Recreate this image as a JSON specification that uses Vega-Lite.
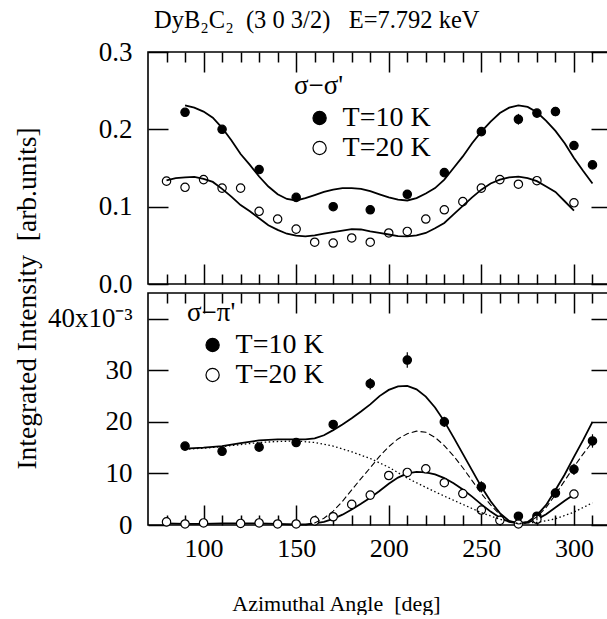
{
  "$schema": "https://vega.github.io/schema/vega-lite/v6.json",
  "padding": {"left": 12, "top": 6, "right": 0, "bottom": 0},
  "autosize": {"type": "pad"},
  "background": "white",
  "config": {
    "font": "Liberation Serif",
    "style": {"guide-label": {"font": "Liberation Serif"}, "guide-title": {"font": "Liberation Serif"}, "group-title": {"font": "Liberation Serif"}},
    "view": {"stroke": "black", "strokeWidth": 1.6},
    "axis": {"domain": false, "grid": false, "tickColor": "black", "tickWidth": 1.5, "labelColor": "black", "titleColor": "black", "labelFont": "Liberation Serif", "titleFont": "Liberation Serif", "labelFontSize": 26, "titleFontWeight": "normal", "labelOverlap": false, "labelFlush": false},
    "legend": {"orient": "none", "titleFont": "Liberation Serif", "titleFontSize": 27, "titleFontWeight": "normal", "titleColor": "black", "labelFont": "Liberation Serif", "labelFontSize": 28, "labelColor": "black", "symbolSize": 175, "symbolType": "circle", "symbolStrokeColor": "black", "symbolStrokeWidth": 1.2, "titlePadding": 4, "rowPadding": 2, "labelOffset": 9, "symbolOffset": 11.6, "padding": 0}
  },
  "datasets": {
    "top_points": [
      {"T": "T=10 K", "x": 90, "y": 0.222, "err": 0.004},
      {"T": "T=10 K", "x": 110, "y": 0.200, "err": 0.004},
      {"T": "T=10 K", "x": 130, "y": 0.148, "err": 0.004},
      {"T": "T=10 K", "x": 150, "y": 0.112, "err": 0.004},
      {"T": "T=10 K", "x": 170, "y": 0.100, "err": 0.004},
      {"T": "T=10 K", "x": 190, "y": 0.096, "err": 0.004},
      {"T": "T=10 K", "x": 210, "y": 0.116, "err": 0.004},
      {"T": "T=10 K", "x": 230, "y": 0.144, "err": 0.004},
      {"T": "T=10 K", "x": 250, "y": 0.197, "err": 0.004},
      {"T": "T=10 K", "x": 270, "y": 0.213, "err": 0.007},
      {"T": "T=10 K", "x": 280, "y": 0.221, "err": 0.005},
      {"T": "T=10 K", "x": 290, "y": 0.223, "err": 0.006},
      {"T": "T=10 K", "x": 300, "y": 0.179, "err": 0.004},
      {"T": "T=10 K", "x": 310, "y": 0.154, "err": 0.004},
      {"T": "T=20 K", "x": 80, "y": 0.133},
      {"T": "T=20 K", "x": 90, "y": 0.125},
      {"T": "T=20 K", "x": 100, "y": 0.135},
      {"T": "T=20 K", "x": 110, "y": 0.124},
      {"T": "T=20 K", "x": 120, "y": 0.124},
      {"T": "T=20 K", "x": 130, "y": 0.094},
      {"T": "T=20 K", "x": 140, "y": 0.084},
      {"T": "T=20 K", "x": 150, "y": 0.071},
      {"T": "T=20 K", "x": 160, "y": 0.054},
      {"T": "T=20 K", "x": 170, "y": 0.053},
      {"T": "T=20 K", "x": 180, "y": 0.0595},
      {"T": "T=20 K", "x": 190, "y": 0.054},
      {"T": "T=20 K", "x": 200, "y": 0.066},
      {"T": "T=20 K", "x": 210, "y": 0.068},
      {"T": "T=20 K", "x": 220, "y": 0.084},
      {"T": "T=20 K", "x": 230, "y": 0.096},
      {"T": "T=20 K", "x": 240, "y": 0.1065},
      {"T": "T=20 K", "x": 250, "y": 0.124},
      {"T": "T=20 K", "x": 260, "y": 0.135},
      {"T": "T=20 K", "x": 270, "y": 0.129},
      {"T": "T=20 K", "x": 280, "y": 0.1336},
      {"T": "T=20 K", "x": 300, "y": 0.105}
    ],
    "top_curves": [
      {"s": "10K", "x": 90, "y": 0.231}, {"s": "10K", "x": 95, "y": 0.228}, {"s": "10K", "x": 100, "y": 0.223}, {"s": "10K", "x": 105, "y": 0.215},
      {"s": "10K", "x": 110, "y": 0.202}, {"s": "10K", "x": 115, "y": 0.186}, {"s": "10K", "x": 120, "y": 0.168}, {"s": "10K", "x": 125, "y": 0.154},
      {"s": "10K", "x": 130, "y": 0.139}, {"s": "10K", "x": 135, "y": 0.126}, {"s": "10K", "x": 140, "y": 0.116}, {"s": "10K", "x": 145, "y": 0.110},
      {"s": "10K", "x": 150, "y": 0.108}, {"s": "10K", "x": 155, "y": 0.111}, {"s": "10K", "x": 160, "y": 0.115}, {"s": "10K", "x": 165, "y": 0.119},
      {"s": "10K", "x": 170, "y": 0.122}, {"s": "10K", "x": 175, "y": 0.124}, {"s": "10K", "x": 180, "y": 0.124}, {"s": "10K", "x": 185, "y": 0.123},
      {"s": "10K", "x": 190, "y": 0.120}, {"s": "10K", "x": 195, "y": 0.116}, {"s": "10K", "x": 200, "y": 0.112}, {"s": "10K", "x": 205, "y": 0.109},
      {"s": "10K", "x": 210, "y": 0.108}, {"s": "10K", "x": 215, "y": 0.111}, {"s": "10K", "x": 220, "y": 0.117}, {"s": "10K", "x": 225, "y": 0.124},
      {"s": "10K", "x": 230, "y": 0.135}, {"s": "10K", "x": 235, "y": 0.150}, {"s": "10K", "x": 240, "y": 0.165}, {"s": "10K", "x": 245, "y": 0.182},
      {"s": "10K", "x": 250, "y": 0.197}, {"s": "10K", "x": 255, "y": 0.210}, {"s": "10K", "x": 260, "y": 0.221}, {"s": "10K", "x": 265, "y": 0.228},
      {"s": "10K", "x": 270, "y": 0.231}, {"s": "10K", "x": 275, "y": 0.229}, {"s": "10K", "x": 280, "y": 0.222}, {"s": "10K", "x": 285, "y": 0.211},
      {"s": "10K", "x": 290, "y": 0.198}, {"s": "10K", "x": 295, "y": 0.182}, {"s": "10K", "x": 300, "y": 0.163}, {"s": "10K", "x": 305, "y": 0.146},
      {"s": "10K", "x": 310, "y": 0.130},
      {"s": "20K", "x": 80, "y": 0.134}, {"s": "20K", "x": 85, "y": 0.137}, {"s": "20K", "x": 90, "y": 0.138}, {"s": "20K", "x": 95, "y": 0.1385},
      {"s": "20K", "x": 100, "y": 0.136}, {"s": "20K", "x": 105, "y": 0.132}, {"s": "20K", "x": 110, "y": 0.123}, {"s": "20K", "x": 115, "y": 0.113},
      {"s": "20K", "x": 120, "y": 0.102}, {"s": "20K", "x": 125, "y": 0.094}, {"s": "20K", "x": 130, "y": 0.085}, {"s": "20K", "x": 135, "y": 0.076},
      {"s": "20K", "x": 140, "y": 0.070}, {"s": "20K", "x": 145, "y": 0.065}, {"s": "20K", "x": 150, "y": 0.0625}, {"s": "20K", "x": 155, "y": 0.0617},
      {"s": "20K", "x": 160, "y": 0.063}, {"s": "20K", "x": 165, "y": 0.065}, {"s": "20K", "x": 170, "y": 0.067}, {"s": "20K", "x": 175, "y": 0.069},
      {"s": "20K", "x": 180, "y": 0.071}, {"s": "20K", "x": 185, "y": 0.0705}, {"s": "20K", "x": 190, "y": 0.068}, {"s": "20K", "x": 195, "y": 0.066},
      {"s": "20K", "x": 200, "y": 0.064}, {"s": "20K", "x": 205, "y": 0.062}, {"s": "20K", "x": 210, "y": 0.0617}, {"s": "20K", "x": 215, "y": 0.063},
      {"s": "20K", "x": 220, "y": 0.066}, {"s": "20K", "x": 225, "y": 0.072}, {"s": "20K", "x": 230, "y": 0.079}, {"s": "20K", "x": 235, "y": 0.090},
      {"s": "20K", "x": 240, "y": 0.101}, {"s": "20K", "x": 245, "y": 0.112}, {"s": "20K", "x": 250, "y": 0.122}, {"s": "20K", "x": 255, "y": 0.130},
      {"s": "20K", "x": 260, "y": 0.135}, {"s": "20K", "x": 265, "y": 0.138}, {"s": "20K", "x": 270, "y": 0.1388}, {"s": "20K", "x": 275, "y": 0.137},
      {"s": "20K", "x": 280, "y": 0.133}, {"s": "20K", "x": 285, "y": 0.126}, {"s": "20K", "x": 290, "y": 0.119}, {"s": "20K", "x": 295, "y": 0.107},
      {"s": "20K", "x": 300, "y": 0.095}
    ],
    "bot_points": [
      {"T": "T=10 K", "x": 90, "y": 15.3, "err": 0.7},
      {"T": "T=10 K", "x": 110, "y": 14.3, "err": 0.7},
      {"T": "T=10 K", "x": 130, "y": 15.1, "err": 0.7},
      {"T": "T=10 K", "x": 150, "y": 16.0, "err": 0.7},
      {"T": "T=10 K", "x": 170, "y": 19.5, "err": 0.8},
      {"T": "T=10 K", "x": 190, "y": 27.4, "err": 1.1},
      {"T": "T=10 K", "x": 210, "y": 32.0, "err": 1.5},
      {"T": "T=10 K", "x": 230, "y": 20.0, "err": 1.0},
      {"T": "T=10 K", "x": 250, "y": 7.4, "err": 1.1},
      {"T": "T=10 K", "x": 270, "y": 1.7, "err": 0.8},
      {"T": "T=10 K", "x": 280, "y": 1.7, "err": 0.8},
      {"T": "T=10 K", "x": 290, "y": 6.2, "err": 0.9},
      {"T": "T=10 K", "x": 300, "y": 10.8, "err": 1.1},
      {"T": "T=10 K", "x": 310, "y": 16.3, "err": 1.3},
      {"T": "T=20 K", "x": 80, "y": 0.6},
      {"T": "T=20 K", "x": 90, "y": 0.2},
      {"T": "T=20 K", "x": 100, "y": 0.4},
      {"T": "T=20 K", "x": 120, "y": 0.3},
      {"T": "T=20 K", "x": 130, "y": 0.4},
      {"T": "T=20 K", "x": 140, "y": 0.2},
      {"T": "T=20 K", "x": 150, "y": 0.2},
      {"T": "T=20 K", "x": 160, "y": 0.8},
      {"T": "T=20 K", "x": 170, "y": 1.6},
      {"T": "T=20 K", "x": 180, "y": 4.0},
      {"T": "T=20 K", "x": 190, "y": 5.8},
      {"T": "T=20 K", "x": 200, "y": 9.6},
      {"T": "T=20 K", "x": 210, "y": 10.2},
      {"T": "T=20 K", "x": 220, "y": 10.9},
      {"T": "T=20 K", "x": 230, "y": 8.2},
      {"T": "T=20 K", "x": 240, "y": 6.1},
      {"T": "T=20 K", "x": 250, "y": 2.9},
      {"T": "T=20 K", "x": 260, "y": 0.9},
      {"T": "T=20 K", "x": 270, "y": 0.2},
      {"T": "T=20 K", "x": 280, "y": 1.1},
      {"T": "T=20 K", "x": 300, "y": 6.0}
    ],
    "bot_curves": [
      {"s": "total10", "style": "solid", "x": 90, "y": 14.8}, {"s": "total10", "style": "solid", "x": 100, "y": 15.0}, {"s": "total10", "style": "solid", "x": 110, "y": 15.3},
      {"s": "total10", "style": "solid", "x": 120, "y": 15.9}, {"s": "total10", "style": "solid", "x": 130, "y": 16.4}, {"s": "total10", "style": "solid", "x": 140, "y": 16.6},
      {"s": "total10", "style": "solid", "x": 150, "y": 16.6}, {"s": "total10", "style": "solid", "x": 155, "y": 16.6}, {"s": "total10", "style": "solid", "x": 160, "y": 16.8},
      {"s": "total10", "style": "solid", "x": 165, "y": 17.4}, {"s": "total10", "style": "solid", "x": 170, "y": 18.4}, {"s": "total10", "style": "solid", "x": 175, "y": 19.5},
      {"s": "total10", "style": "solid", "x": 180, "y": 20.7}, {"s": "total10", "style": "solid", "x": 185, "y": 22.0}, {"s": "total10", "style": "solid", "x": 190, "y": 23.4},
      {"s": "total10", "style": "solid", "x": 195, "y": 25.0}, {"s": "total10", "style": "solid", "x": 200, "y": 26.2}, {"s": "total10", "style": "solid", "x": 205, "y": 26.9},
      {"s": "total10", "style": "solid", "x": 210, "y": 27.0}, {"s": "total10", "style": "solid", "x": 215, "y": 26.3}, {"s": "total10", "style": "solid", "x": 220, "y": 24.9},
      {"s": "total10", "style": "solid", "x": 225, "y": 22.8}, {"s": "total10", "style": "solid", "x": 230, "y": 20.1}, {"s": "total10", "style": "solid", "x": 235, "y": 17.0},
      {"s": "total10", "style": "solid", "x": 240, "y": 13.8}, {"s": "total10", "style": "solid", "x": 245, "y": 10.6}, {"s": "total10", "style": "solid", "x": 250, "y": 7.4},
      {"s": "total10", "style": "solid", "x": 255, "y": 4.6}, {"s": "total10", "style": "solid", "x": 260, "y": 2.3}, {"s": "total10", "style": "solid", "x": 265, "y": 0.8},
      {"s": "total10", "style": "solid", "x": 270, "y": 0.3}, {"s": "total10", "style": "solid", "x": 275, "y": 0.6}, {"s": "total10", "style": "solid", "x": 280, "y": 1.9},
      {"s": "total10", "style": "solid", "x": 285, "y": 3.9}, {"s": "total10", "style": "solid", "x": 290, "y": 6.8}, {"s": "total10", "style": "solid", "x": 295, "y": 9.8},
      {"s": "total10", "style": "solid", "x": 300, "y": 13.2}, {"s": "total10", "style": "solid", "x": 305, "y": 16.5}, {"s": "total10", "style": "solid", "x": 310, "y": 20.0},
      {"s": "total20", "style": "solid", "x": 80, "y": 0.3}, {"s": "total20", "style": "solid", "x": 90, "y": 0.2}, {"s": "total20", "style": "solid", "x": 100, "y": 0.2},
      {"s": "total20", "style": "solid", "x": 110, "y": 0.3}, {"s": "total20", "style": "solid", "x": 120, "y": 0.3}, {"s": "total20", "style": "solid", "x": 130, "y": 0.3},
      {"s": "total20", "style": "solid", "x": 140, "y": 0.2}, {"s": "total20", "style": "solid", "x": 150, "y": 0.1}, {"s": "total20", "style": "solid", "x": 155, "y": 0.1},
      {"s": "total20", "style": "solid", "x": 160, "y": 0.3}, {"s": "total20", "style": "solid", "x": 165, "y": 0.6}, {"s": "total20", "style": "solid", "x": 170, "y": 1.2},
      {"s": "total20", "style": "solid", "x": 175, "y": 2.0}, {"s": "total20", "style": "solid", "x": 180, "y": 3.0}, {"s": "total20", "style": "solid", "x": 185, "y": 4.1},
      {"s": "total20", "style": "solid", "x": 190, "y": 5.3}, {"s": "total20", "style": "solid", "x": 195, "y": 6.6}, {"s": "total20", "style": "solid", "x": 200, "y": 8.0},
      {"s": "total20", "style": "solid", "x": 205, "y": 9.2}, {"s": "total20", "style": "solid", "x": 210, "y": 10.0}, {"s": "total20", "style": "solid", "x": 215, "y": 10.3},
      {"s": "total20", "style": "solid", "x": 220, "y": 10.2}, {"s": "total20", "style": "solid", "x": 225, "y": 9.8}, {"s": "total20", "style": "solid", "x": 230, "y": 9.1},
      {"s": "total20", "style": "solid", "x": 235, "y": 8.1}, {"s": "total20", "style": "solid", "x": 240, "y": 6.9}, {"s": "total20", "style": "solid", "x": 245, "y": 5.5},
      {"s": "total20", "style": "solid", "x": 250, "y": 4.0}, {"s": "total20", "style": "solid", "x": 255, "y": 2.6}, {"s": "total20", "style": "solid", "x": 260, "y": 1.4},
      {"s": "total20", "style": "solid", "x": 265, "y": 0.6}, {"s": "total20", "style": "solid", "x": 270, "y": 0.3}, {"s": "total20", "style": "solid", "x": 275, "y": 0.5},
      {"s": "total20", "style": "solid", "x": 280, "y": 1.1}, {"s": "total20", "style": "solid", "x": 285, "y": 2.1}, {"s": "total20", "style": "solid", "x": 290, "y": 3.4},
      {"s": "total20", "style": "solid", "x": 295, "y": 4.7}, {"s": "total20", "style": "solid", "x": 300, "y": 5.9},
      {"s": "dot10", "style": "dotted", "x": 90, "y": 14.7}, {"s": "dot10", "style": "dotted", "x": 100, "y": 14.9}, {"s": "dot10", "style": "dotted", "x": 110, "y": 15.2},
      {"s": "dot10", "style": "dotted", "x": 120, "y": 15.6}, {"s": "dot10", "style": "dotted", "x": 130, "y": 16.0}, {"s": "dot10", "style": "dotted", "x": 140, "y": 16.2},
      {"s": "dot10", "style": "dotted", "x": 150, "y": 16.3}, {"s": "dot10", "style": "dotted", "x": 160, "y": 16.0}, {"s": "dot10", "style": "dotted", "x": 170, "y": 15.3},
      {"s": "dot10", "style": "dotted", "x": 180, "y": 14.2}, {"s": "dot10", "style": "dotted", "x": 190, "y": 12.9}, {"s": "dot10", "style": "dotted", "x": 200, "y": 11.2},
      {"s": "dot10", "style": "dotted", "x": 210, "y": 9.1}, {"s": "dot10", "style": "dotted", "x": 220, "y": 7.3}, {"s": "dot10", "style": "dotted", "x": 230, "y": 5.6},
      {"s": "dot10", "style": "dotted", "x": 240, "y": 4.0}, {"s": "dot10", "style": "dotted", "x": 250, "y": 2.4}, {"s": "dot10", "style": "dotted", "x": 260, "y": 1.1},
      {"s": "dot10", "style": "dotted", "x": 270, "y": 0.3}, {"s": "dot10", "style": "dotted", "x": 280, "y": 0.5}, {"s": "dot10", "style": "dotted", "x": 290, "y": 1.2},
      {"s": "dot10", "style": "dotted", "x": 300, "y": 2.5}, {"s": "dot10", "style": "dotted", "x": 310, "y": 4.3},
      {"s": "dash10", "style": "dashed", "x": 155, "y": 0.0}, {"s": "dash10", "style": "dashed", "x": 160, "y": 0.4}, {"s": "dash10", "style": "dashed", "x": 165, "y": 1.3},
      {"s": "dash10", "style": "dashed", "x": 170, "y": 2.7}, {"s": "dash10", "style": "dashed", "x": 175, "y": 4.6}, {"s": "dash10", "style": "dashed", "x": 180, "y": 6.8},
      {"s": "dash10", "style": "dashed", "x": 185, "y": 9.0}, {"s": "dash10", "style": "dashed", "x": 190, "y": 11.1}, {"s": "dash10", "style": "dashed", "x": 195, "y": 13.3},
      {"s": "dash10", "style": "dashed", "x": 200, "y": 15.2}, {"s": "dash10", "style": "dashed", "x": 205, "y": 16.7}, {"s": "dash10", "style": "dashed", "x": 210, "y": 17.7},
      {"s": "dash10", "style": "dashed", "x": 215, "y": 18.2}, {"s": "dash10", "style": "dashed", "x": 220, "y": 18.0}, {"s": "dash10", "style": "dashed", "x": 225, "y": 17.0},
      {"s": "dash10", "style": "dashed", "x": 230, "y": 15.4}, {"s": "dash10", "style": "dashed", "x": 235, "y": 13.4}, {"s": "dash10", "style": "dashed", "x": 240, "y": 11.1},
      {"s": "dash10", "style": "dashed", "x": 245, "y": 8.6}, {"s": "dash10", "style": "dashed", "x": 250, "y": 6.1}, {"s": "dash10", "style": "dashed", "x": 255, "y": 3.9},
      {"s": "dash10", "style": "dashed", "x": 260, "y": 2.0}, {"s": "dash10", "style": "dashed", "x": 265, "y": 0.7}, {"s": "dash10", "style": "dashed", "x": 270, "y": 0.2},
      {"s": "dash10", "style": "dashed", "x": 275, "y": 0.4}, {"s": "dash10", "style": "dashed", "x": 280, "y": 1.6}, {"s": "dash10", "style": "dashed", "x": 285, "y": 3.4},
      {"s": "dash10", "style": "dashed", "x": 290, "y": 5.9}, {"s": "dash10", "style": "dashed", "x": 295, "y": 8.6}, {"s": "dash10", "style": "dashed", "x": 300, "y": 11.3},
      {"s": "dash10", "style": "dashed", "x": 305, "y": 13.8}, {"s": "dash10", "style": "dashed", "x": 310, "y": 16.1}
    ]
  },
  "bounds": "flush",
  "spacing": 9,
  "resolve": {"scale": {"fill": "independent"}, "legend": {"fill": "independent"}},
  "vconcat": [
    {
      "width": 463,
      "height": 232,
      "title": {"text": "DyB₂C₂\u00a0\u00a0(3 0 3/2)\u00a0\u00a0\u00a0E=7.792 keV", "anchor": "start", "frame": "group", "dx": 6, "fontSize": 24.5, "fontWeight": "normal", "font": "Liberation Serif", "color": "black", "baseline": "alphabetic", "offset": -14},
      "layer": [
        {
          "data": {"name": "top_curves"},
          "transform": [{"filter": "datum.s == '10K'"}],
          "mark": {"type": "line", "color": "black", "strokeWidth": 1.8},
          "encoding": {
            "x": {"field": "x", "type": "quantitative", "scale": {"domain": [70, 320], "nice": false, "zero": false},
                  "axis": {"orient": "bottom", "values": [100, 150, 200, 250, 300], "tickSize": -20, "labels": false, "title": null}},
            "y": {"field": "y", "type": "quantitative", "scale": {"domain": [0, 0.3], "nice": false, "zero": false},
                  "axis": {"orient": "left", "values": [0, 0.1, 0.2, 0.3], "format": ".1f", "tickSize": -20, "labelPadding": 36, "labelFont": "Liberation Serif", "labelFontSize": 27, "labelBaseline": "middle",
                           "encode": {"labels": {"update": {"font": {"value": "Liberation Serif"}}}},
                           "title": "Integrated Intensity\u00a0\u00a0[arb.units]", "titleFont": "Liberation Serif", "titleFontSize": 27.5, "titleAngle": -90, "titleX": -121, "titleY": 246, "titleAlign": "center", "titleBaseline": "middle"}}
          }
        },
        {
          "data": {"name": "top_points"},
          "mark": {"type": "point", "shape": "circle", "filled": true, "stroke": "black", "strokeWidth": 1.2, "size": 70, "opacity": 1},
          "encoding": {
            "x": {"field": "x", "type": "quantitative", "axis": {"orient": "top", "values": [100, 150, 200, 250, 300], "tickSize": -20, "labels": false, "title": null}},
            "y": {"field": "y", "type": "quantitative", "axis": {"orient": "right", "values": [0, 0.1, 0.2, 0.3], "tickSize": -20, "labels": false, "title": null}},
            "fill": {"field": "T", "type": "nominal", "scale": {"domain": ["T=10 K", "T=20 K"], "range": ["black", "white"]},
                     "legend": {"title": "σ−σ'", "legendX": 146, "legendY": 21, "labelFont": "Liberation Serif", "titleFont": "Liberation Serif",
                                "encode": {"labels": {"update": {"font": {"value": "Liberation Serif"}}}}}}
          }
        },
        {
          "data": {"name": "top_points"},
          "transform": [{"filter": "datum.T == 'T=10 K'"}],
          "mark": {"type": "errorbar", "color": "black", "thickness": 1.2},
          "encoding": {
            "x": {"field": "x", "type": "quantitative", "axis": {"orient": "bottom", "values": [80, 90, 110, 120, 130, 140, 160, 170, 180, 190, 210, 220, 230, 240, 260, 270, 280, 290, 310], "tickSize": -10, "labels": false, "title": null}},
            "y": {"field": "y", "type": "quantitative", "axis": null},
            "yError": {"field": "err"}
          }
        },
        {
          "data": {"name": "top_curves"},
          "transform": [{"filter": "datum.s == '20K'"}],
          "mark": {"type": "line", "color": "black", "strokeWidth": 1.8},
          "encoding": {
            "x": {"field": "x", "type": "quantitative", "axis": {"orient": "top", "values": [80, 90, 110, 120, 130, 140, 160, 170, 180, 190, 210, 220, 230, 240, 260, 270, 280, 290, 310], "tickSize": -10, "labels": false, "title": null}},
            "y": {"field": "y", "type": "quantitative", "axis": null}
          }
        }
      ],
      "resolve": {"axis": {"x": "independent", "y": "independent"}}
    },
    {
      "width": 463,
      "height": 232,
      "layer": [
        {
          "data": {"name": "bot_curves"},
          "transform": [{"filter": "datum.style == 'solid'"}],
          "mark": {"type": "line", "color": "black", "strokeWidth": 1.8},
          "encoding": {
            "x": {"field": "x", "type": "quantitative", "scale": {"domain": [70, 320], "nice": false, "zero": false},
                  "axis": {"orient": "bottom", "values": [100, 150, 200, 250, 300], "tickSize": -20, "labelPadding": 30, "labelFont": "Liberation Serif", "labelBaseline": "top",
                           "encode": {"labels": {"update": {"font": {"value": "Liberation Serif"}}}},
                           "title": "Azimuthal Angle\u00a0\u00a0[deg]", "titleFont": "Liberation Serif", "titleFontSize": 22, "titleX": 188, "titleY": 85, "titleAlign": "center", "titleBaseline": "alphabetic"}},
            "y": {"field": "y", "type": "quantitative", "scale": {"domain": [0, 45], "nice": false, "zero": false},
                  "axis": {"orient": "left", "values": [0, 10, 20, 30, 40], "tickSize": -20, "labelPadding": 36, "labelFont": "Liberation Serif", "labelFontSize": 27, "labelBaseline": "middle",
                           "encode": {"labels": {"update": {"font": {"value": "Liberation Serif"}}}},
                           "labelExpr": "datum.value == 40 ? '40x10⁻³' : datum.label", "title": null}},
            "detail": {"field": "s", "type": "nominal"}
          }
        },
        {
          "data": {"name": "bot_points"},
          "mark": {"type": "point", "shape": "circle", "filled": true, "stroke": "black", "strokeWidth": 1.2, "size": 70, "opacity": 1},
          "encoding": {
            "x": {"field": "x", "type": "quantitative", "axis": {"orient": "top", "values": [100, 150, 200, 250, 300], "tickSize": -20, "labels": false, "title": null}},
            "y": {"field": "y", "type": "quantitative", "axis": {"orient": "right", "values": [0, 10, 20, 30, 40], "tickSize": -20, "labels": false, "title": null}},
            "fill": {"field": "T", "type": "nominal", "scale": {"domain": ["T=10 K", "T=20 K"], "range": ["black", "white"]},
                     "legend": {"title": "σ−π'", "legendX": 39, "legendY": 7, "labelFont": "Liberation Serif", "titleFont": "Liberation Serif",
                                "encode": {"labels": {"update": {"font": {"value": "Liberation Serif"}}}}}}
          }
        },
        {
          "data": {"name": "bot_points"},
          "transform": [{"filter": "datum.T == 'T=10 K'"}],
          "mark": {"type": "errorbar", "color": "black", "thickness": 1.2},
          "encoding": {
            "x": {"field": "x", "type": "quantitative", "axis": {"orient": "bottom", "values": [80, 90, 110, 120, 130, 140, 160, 170, 180, 190, 210, 220, 230, 240, 260, 270, 280, 290, 310], "tickSize": -10, "labels": false, "title": null}},
            "y": {"field": "y", "type": "quantitative", "axis": null},
            "yError": {"field": "err"}
          }
        },
        {
          "data": {"name": "bot_curves"},
          "transform": [{"filter": "datum.style != 'solid'"}],
          "mark": {"type": "line", "color": "black"},
          "encoding": {
            "x": {"field": "x", "type": "quantitative", "axis": {"orient": "top", "values": [80, 90, 110, 120, 130, 140, 160, 170, 180, 190, 210, 220, 230, 240, 260, 270, 280, 290, 310], "tickSize": -10, "labels": false, "title": null}},
            "y": {"field": "y", "type": "quantitative", "axis": null},
            "detail": {"field": "s", "type": "nominal"},
            "strokeDash": {"field": "style", "type": "nominal", "scale": {"domain": ["dashed", "dotted"], "range": [[6, 3], [1.5, 2.5]]}, "legend": null},
            "strokeWidth": {"field": "style", "type": "nominal", "scale": {"domain": ["dashed", "dotted"], "range": [1.1, 1.3]}, "legend": null}
          }
        }
      ],
      "resolve": {"axis": {"x": "independent", "y": "independent"}}
    }
  ]
}
